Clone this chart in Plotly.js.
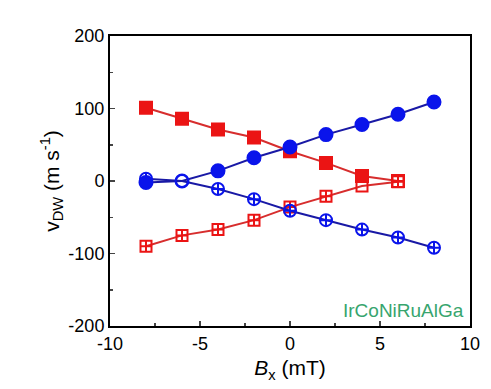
<!DOCTYPE html>
<html><head><meta charset="utf-8">
<script src="https://cdn.plot.ly/plotly-3.0.1.min.js"></script>
<style>html,body{margin:0;padding:0;background:#fff}</style>
</head><body>
<div id="chart" style="width:491px;height:389px"></div>
<script>
var bx = [-8, -6, -4, -2, 0, 2, 4, 6, 8];
var redFilledX = [-8, -6, -4, -2, 0, 2, 4, 6];
var redFilled = [101, 86, 71, 60, 41, 25, 7, 0];
var redOpenX = [-8, -6, -4, -2, 0, 2, 4, 6];
var redOpen = [-90, -75, -67, -54, -36, -21, -7, -1];
var blueFilled = [-2, 0, 14, 32, 47, 64, 78, 92, 109];
var blueOpen = [3, 0, -11, -25, -41, -54, -67, -78, -92];
var xTickVals = [-10, -5, 0, 5, 10];
var xTickText = ['-10', '-5', '0', '5', '10'];
var yTickVals = [-200, -100, 0, 100, 200];
var yTickText = ['-200', '-100', '0', '100', '200'];
var sampleLabel = 'IrCoNiRuAlGa';

var redM = 'rgb(235,20,20)', redL = 'rgb(215,45,45)';
var blueM = 'rgb(10,20,235)', blueL = 'rgb(25,25,165)';

var traces = [
  {x: redOpenX, y: redOpen, mode: 'lines+markers', line: {color: redL, width: 2},
   marker: {symbol: redOpenX.map(function(v){return v===4?'square-open':'square-cross-open';}), size: 11, color: redM, line: {color: redM, width: 2}}},
  {x: bx, y: blueOpen, mode: 'lines+markers', line: {color: blueL, width: 2},
   marker: {symbol: bx.map(function(v){return v===-6?'circle-open':'circle-cross-open';}), size: 12, color: blueM, line: {color: blueM, width: 2}}},
  {x: redFilledX, y: redFilled, mode: 'lines+markers', line: {color: redL, width: 2},
   marker: {symbol: redFilledX.map(function(v){return v===6?'square-cross-open':'square';}), size: 12, color: redM, line: {color: redM, width: 2}}},
  {x: bx, y: blueFilled, mode: 'lines+markers', line: {color: blueL, width: 2},
   marker: {symbol: bx.map(function(v){return v===-6?'circle-open':'circle';}), size: 13, color: blueM, line: {color: blueM, width: 2}}}
];

var fam = 'Liberation Sans, Arial, sans-serif';
var fnt = {family: fam, size: 18, color: '#000'};
var layout = {
  width: 491, height: 389,
  margin: {l: 110, r: 21, t: 36, b: 63},
  paper_bgcolor: '#fff', plot_bgcolor: '#fff',
  showlegend: false,
  font: fnt,
  xaxis: {range: [-10, 10], tickmode: 'array', tickvals: xTickVals, ticktext: xTickText, ticks: 'inside', ticklen: 5, tickwidth: 1.5,
    minor: {tickvals: [-7.5, -2.5, 2.5, 7.5], ticks: 'inside', ticklen: 3, tickwidth: 1.5},
    showline: true, linewidth: 2, linecolor: '#000', mirror: true, showgrid: false, zeroline: false,
    tickfont: fnt,
    title: {text: '<i>B</i><sub>x</sub> (mT)', font: {family: fam, size: 21}, standoff: 8}},
  yaxis: {range: [-200, 200], tickmode: 'array', tickvals: yTickVals, ticktext: yTickText, ticks: 'inside', ticklen: 5, tickwidth: 1.5,
    minor: {tickvals: [-150, -50, 50, 150], ticks: 'inside', ticklen: 3, tickwidth: 1.5},
    showline: true, linewidth: 2, linecolor: '#000', mirror: true, showgrid: false, zeroline: false,
    tickfont: fnt,
    title: {text: 'v<sub>DW</sub> (m s<sup>-1</sup>)', font: {family: fam, size: 21}, standoff: 3}},
  annotations: [
    {text: sampleLabel, xref: 'paper', yref: 'paper', x: 0.99, y: 0.012, xanchor: 'right', yanchor: 'bottom',
     showarrow: false, font: {family: fam, size: 19, color: 'rgb(55,165,110)'}},
    {text: '<i>B</i><sub>x</sub> (mT)', xref: 'paper', yref: 'paper', x: 0.5, y: 1.165, xanchor: 'center', yanchor: 'middle',
     showarrow: false, font: {family: fam, size: 21, color: '#000'}}
  ]
};
Plotly.newPlot('chart', traces, layout, {displayModeBar: false, staticPlot: true});
</script>
</body></html>
